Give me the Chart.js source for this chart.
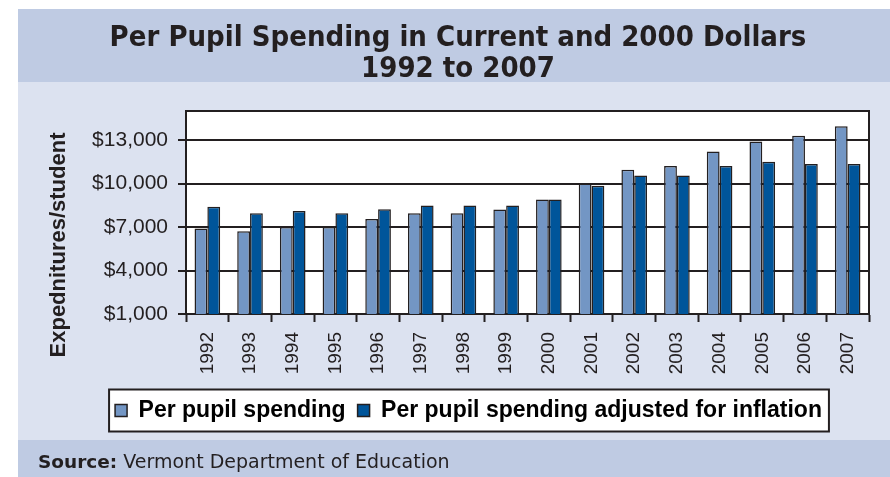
<!DOCTYPE html>
<html>
<head>
<meta charset="utf-8">
<script src="https://cdn.jsdelivr.net/npm/chart.js@4/dist/chart.umd.min.js"></script>
<style>
  html, body { margin: 0; padding: 0; background: #ffffff; }
  #wrap { width: 890px; height: 477px; position: relative; }
</style>
</head>
<body>
<div id="wrap"><canvas id="chart" width="890" height="477"></canvas></div>
<script>
// School years shown on the category axis
const years = ['1992', '1993', '1994', '1995', '1996', '1997', '1998', '1999',
               '2000', '2001', '2002', '2003', '2004', '2005', '2006', '2007'];

// Spending per pupil, current dollars
const perPupil = [6900, 6700, 7000, 7000, 7550, 7950, 7950, 8200,
                  8900, 10000, 10950, 11200, 12200, 12900, 13300, 13950];

// Spending per pupil, constant 2000 dollars
const perPupilAdjusted = [8400, 7950, 8100, 7950, 8230, 8480, 8480, 8480,
                          8900, 9850, 10550, 10550, 11200, 11500, 11350, 11350];

// Value axis
const yMin = 1000;
const yMax = 15000;
const yTicks = [1000, 4000, 7000, 10000, 13000];

const titleLines = ['Per Pupil Spending in Current and 2000 Dollars', '1992 to 2007'];
const yAxisTitle = 'Expednitures/student';
const sourceLabel = 'Source:';
const sourceText = ' Vermont Department of Education';

const INK = '#231F20';

// Panel backgrounds, heading, legend frame, plot frame and footer text
const decor = {
  id: 'decor',
  beforeDraw(chart) {
    const ctx = chart.ctx;
    const W = chart.width, H = chart.height;
    ctx.save();
    ctx.fillStyle = '#ffffff';
    ctx.fillRect(0, 0, W, H);
    ctx.fillStyle = '#BFCBE3';
    ctx.fillRect(18, 9, W - 18, 73);
    ctx.fillStyle = '#DCE2F0';
    ctx.fillRect(18, 82, W - 18, 358);
    ctx.fillStyle = '#BFCBE3';
    ctx.fillRect(18, 440, W - 18, H - 440);

    const a = chart.chartArea;
    ctx.fillStyle = '#ffffff';
    ctx.fillRect(a.left, a.top, a.right - a.left, a.bottom - a.top);

    // heading, two centred lines
    ctx.fillStyle = INK;
    ctx.textAlign = 'center';
    ctx.textBaseline = 'alphabetic';
    ctx.font = 'bold 29px "DejaVu Sans Condensed", "DejaVu Sans", Verdana, sans-serif';
    ctx.fillText(titleLines[0], 458, 46);
    ctx.fillText(titleLines[1], 458, 77);

    // legend frame around the legend items
    const boxes = chart.legend.legendHitBoxes;
    if (boxes && boxes.length) {
      let x0 = Infinity, x1 = -Infinity, y0 = Infinity, y1 = -Infinity;
      boxes.forEach(b => {
        x0 = Math.min(x0, b.left); x1 = Math.max(x1, b.left + b.width);
        y0 = Math.min(y0, b.top); y1 = Math.max(y1, b.top + b.height);
      });
      const l = x0 - 6, r = x1 + 7, cy = (y0 + y1) / 2;
      ctx.fillStyle = '#ffffff';
      ctx.fillRect(l, cy - 21, r - l, 42);
      ctx.strokeStyle = INK;
      ctx.lineWidth = 2;
      ctx.strokeRect(l, cy - 21, r - l, 42);
    }

    // rotated value-axis title
    ctx.fillStyle = INK;
    ctx.font = 'bold 22px "Liberation Sans", Arial, sans-serif';
    ctx.textAlign = 'center';
    ctx.textBaseline = 'middle';
    ctx.translate(59, 245);
    ctx.rotate(-Math.PI / 2);
    ctx.fillText(yAxisTitle, 0, 0);
    ctx.restore();

    // footer source line
    ctx.save();
    ctx.fillStyle = INK;
    ctx.textBaseline = 'alphabetic';
    ctx.textAlign = 'left';
    ctx.font = 'bold 18.5px "DejaVu Sans", Verdana, sans-serif';
    ctx.fillText(sourceLabel, 38, 468);
    const w = ctx.measureText(sourceLabel).width;
    ctx.font = '19px "DejaVu Sans", Verdana, sans-serif';
    ctx.fillText(sourceText, 38 + w, 468);
    ctx.restore();
  },
  afterDatasetsDraw(chart) {
    const ctx = chart.ctx;
    const a = chart.chartArea;
    ctx.save();
    ctx.strokeStyle = INK;
    ctx.lineWidth = 2;
    ctx.beginPath();
    ctx.moveTo(a.left, a.top);
    ctx.lineTo(a.right, a.top);
    ctx.lineTo(a.right, a.bottom);
    ctx.stroke();
    ctx.restore();
  }
};

new Chart(document.getElementById('chart'), {
  type: 'bar',
  data: {
    labels: years,
    datasets: [
      {
        label: 'Per pupil spending',
        data: perPupil,
        backgroundColor: '#7396C4',
        borderColor: INK,
        borderWidth: 1.5
      },
      {
        label: 'Per pupil spending adjusted for inflation',
        data: perPupilAdjusted,
        backgroundColor: '#00559A',
        borderColor: INK,
        borderWidth: 1.5
      }
    ]
  },
  options: {
    responsive: false,
    animation: false,
    devicePixelRatio: 1,
    datasets: { bar: { categoryPercentage: 0.6, barPercentage: 1.0 } },
    layout: { padding: { left: 68, right: 21, top: 111, bottom: 45 } },
    plugins: {
      title: { display: false },
      legend: {
        position: 'bottom',
        labels: {
          color: '#000000',
          font: { family: '"Liberation Sans", Arial, sans-serif', weight: 'bold', size: 23 },
          boxWidth: 12,
          boxHeight: 12,
          padding: 12
        }
      },
      tooltip: { enabled: false }
    },
    scales: {
      x: {
        grid: { drawOnChartArea: false, drawTicks: true, tickLength: 8, tickColor: INK, tickWidth: 2, offset: true },
        border: { display: true, color: INK, width: 2 },
        ticks: {
          color: INK,
          font: { family: '"Liberation Sans", Arial, sans-serif', size: 19 },
          minRotation: 90,
          maxRotation: 90,
          padding: 10,
          autoSkip: false
        },
        afterFit(scale) { scale.height = 73; }
      },
      y: {
        min: yMin,
        max: yMax,
        afterBuildTicks(scale) { scale.ticks = yTicks.map(v => ({ value: v })); },
        ticks: {
          color: INK,
          font: { family: '"Liberation Sans", Arial, sans-serif', size: 21 },
          padding: 10,
          callback: v => '$' + v.toLocaleString('en-US')
        },
        grid: { color: INK, lineWidth: 2, tickLength: 8, tickColor: INK },
        border: { display: true, color: INK, width: 2 },
        afterFit(scale) { scale.width = 118; }
      }
    }
  },
  plugins: [decor]
});
</script>
</body>
</html>
